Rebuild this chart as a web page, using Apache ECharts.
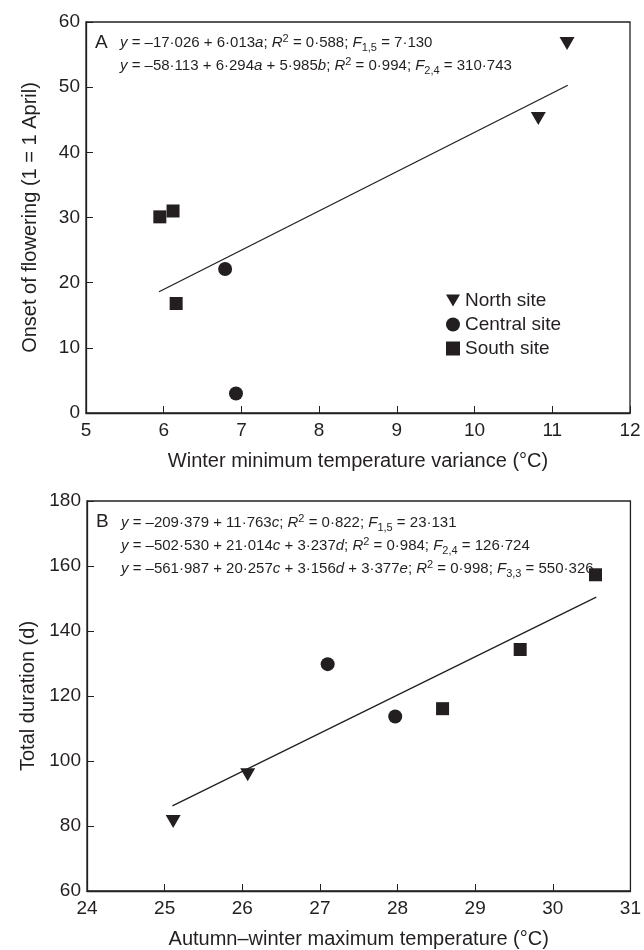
<!DOCTYPE html>
<html><head><meta charset="utf-8">
<script src="https://cdn.jsdelivr.net/npm/echarts@6/dist/echarts.min.js"></script>
<style>html,body{margin:0;padding:0;background:#fff}#c{width:644px;height:950px}</style>
</head><body><div id="c"></div>
<script>
// ---- Panel A data ----
const northA = [[10.82, 45.2], [11.19, 56.7]];
const centralA = [[6.79, 22.1], [6.93, 3.0]];
const southA = [[5.95, 30.1], [6.12, 31.0], [6.16, 16.8]];
const fitA = [[5.94, 18.6], [11.2, 50.3]];
const xTicksA = [5, 6, 7, 8, 9, 10, 11, 12];
const yTicksA = [0, 10, 20, 30, 40, 50, 60];
// ---- Panel B data ----
const northB = [[25.11, 81.4], [26.07, 95.8]];
const centralB = [[27.10, 129.8], [27.97, 113.7]];
const southB = [[28.58, 116.1], [29.58, 134.3], [30.55, 157.3]];
const fitB = [[25.10, 86.2], [30.56, 150.4]];
const xTicksB = [24, 25, 26, 27, 28, 29, 30, 31];
const yTicksB = [60, 80, 100, 120, 140, 160, 180];
// ---- Text ----
const seriesNames = ['North site', 'Central site', 'South site'];
const eqA = [
  '{i|y} = –17·026 + 6·013{i|a}; {i|R}{sup|2} = 0·588; {i|F}{sub|1,5} = 7·130',
  '{i|y} = –58·113 + 6·294{i|a} + 5·985{i|b}; {i|R}{sup|2} = 0·994; {i|F}{sub|2,4} = 310·743'
];
const eqB = [
  '{i|y} = –209·379 + 11·763{i|c}; {i|R}{sup|2} = 0·822; {i|F}{sub|1,5} = 23·131',
  '{i|y} = –502·530 + 21·014{i|c} + 3·237{i|d}; {i|R}{sup|2} = 0·984; {i|F}{sub|2,4} = 126·724',
  '{i|y} = –561·987 + 20·257{i|c} + 3·156{i|d} + 3·377{i|e}; {i|R}{sup|2} = 0·998; {i|F}{sub|3,3} = 550·326'
];
const xNameA = 'Winter minimum temperature variance (°C)';
const yNameA = 'Onset of flowering (1 = 1 April)';
const xNameB = 'Autumn–winter maximum temperature (°C)';
const yNameB = 'Total duration (d)';

const INK = '#231f20';
const FONT = 'Liberation Sans, Arial, Helvetica, sans-serif';
const triPath = 'path://M0,0L20,0L10,17Z';

function xAxis(ticks, gridIndex, name) {
  return {
    type: 'value', gridIndex, min: ticks[0], max: ticks[ticks.length - 1],
    interval: ticks[1] - ticks[0],
    name, nameLocation: 'middle', nameGap: 38,
    nameTextStyle: { fontFamily: FONT, fontSize: 20, color: INK },
    axisLine: { show: true, lineStyle: { color: INK, width: 1.3 } },
    axisTick: { show: true, inside: true, length: 7, lineStyle: { color: INK, width: 1 } },
    axisLabel: { fontFamily: FONT, fontSize: 19, color: INK, margin: 8 },
    splitLine: { show: false }
  };
}
function yAxis(ticks, gridIndex, name) {
  return {
    type: 'value', gridIndex, min: ticks[0], max: ticks[ticks.length - 1],
    interval: ticks[1] - ticks[0],
    name, nameLocation: 'middle', nameGap: 46,
    nameTextStyle: { fontFamily: FONT, fontSize: 20, color: INK },
    axisLine: { show: true, lineStyle: { color: INK, width: 1.3 } },
    axisTick: { show: true, inside: true, length: 7, lineStyle: { color: INK, width: 1 } },
    axisLabel: { fontFamily: FONT, fontSize: 19, color: INK, margin: 6 },
    splitLine: { show: false }
  };
}
function scatter(name, data, idx, symbol, size) {
  return {
    type: 'scatter', name, data, xAxisIndex: idx, yAxisIndex: idx,
    symbol, symbolSize: size, itemStyle: { color: INK, opacity: 1 },
    emphasis: { disabled: true }, z: 3
  };
}
function fit(data, idx) {
  return {
    type: 'line', data, xAxisIndex: idx, yAxisIndex: idx, showSymbol: false,
    symbol: 'none', lineStyle: { color: INK, width: 1.3 }, z: 2, silent: true
  };
}
const rich = {
  i: { fontFamily: FONT, fontSize: 15, fontStyle: 'italic', fill: INK, color: INK, lineHeight: 20 },
  sup: { fontFamily: FONT, fontSize: 11, fill: INK, color: INK, lineHeight: 10, verticalAlign: 'top' },
  sub: { fontFamily: FONT, fontSize: 11, fill: INK, color: INK, lineHeight: 10, verticalAlign: 'bottom' }
};
function eqText(text, left, top) {
  return {
    type: 'text', left, top, silent: true,
    style: { text, rich, fontFamily: FONT, fontSize: 15, fill: INK, lineHeight: 20 }
  };
}
function letter(text, left, top) {
  return { type: 'text', left, top, silent: true,
    style: { text, fontFamily: FONT, fontSize: 19, fill: INK } };
}

const chart = echarts.init(document.getElementById('c'), null, { renderer: 'canvas' });
chart.setOption({
  animation: false,
  backgroundColor: '#fff',
  grid: [
    { left: 86, top: 22, width: 544, height: 391, show: true, borderColor: INK, borderWidth: 1.3, backgroundColor: 'transparent' },
    { left: 87, top: 501, width: 545, height: 393, show: true, borderColor: INK, borderWidth: 1.3, backgroundColor: 'transparent' }
  ],
  xAxis: [xAxis(xTicksA, 0, xNameA), xAxis(xTicksB, 1, xNameB)],
  yAxis: [yAxis(yTicksA, 0, yNameA), yAxis(yTicksB, 1, yNameB)],
  legend: {
    data: seriesNames, orient: 'vertical', left: 441, top: 286,
    itemWidth: 14, itemHeight: 14, itemGap: 5, selectedMode: false,
    textStyle: { fontFamily: FONT, fontSize: 19, color: INK, padding: [0, 0, 0, 0] }
  },
  series: [
    scatter(seriesNames[0], northA, 0, triPath, [15, 13]),
    scatter(seriesNames[1], centralA, 0, 'circle', 14),
    scatter(seriesNames[2], southA, 0, 'rect', 13),
    fit(fitA, 0),
    scatter(seriesNames[0], northB, 1, triPath, [15, 13]),
    scatter(seriesNames[1], centralB, 1, 'circle', 14),
    scatter(seriesNames[2], southB, 1, 'rect', 13),
    fit(fitB, 1)
  ],
  graphic: [
    letter('A', 95, 33),
    eqText(eqA[0], 120, 33),
    eqText(eqA[1], 120, 56),
    letter('B', 96, 512),
    eqText(eqB[0], 121, 513),
    eqText(eqB[1], 121, 536),
    eqText(eqB[2], 121, 559)
  ]
});
</script>
</body></html>
